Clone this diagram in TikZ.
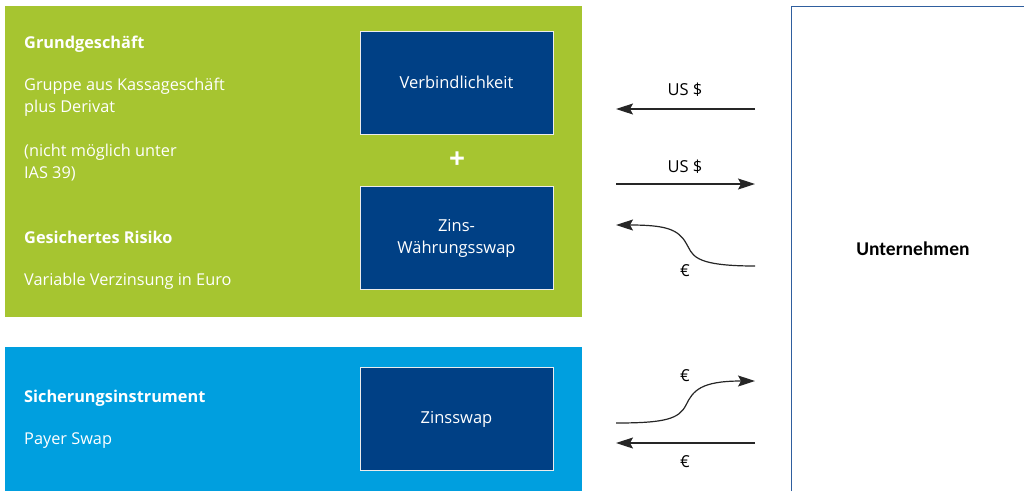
\documentclass[tikz,border=0pt]{standalone}
\usepackage{fontspec}
\setmainfont{Open Sans}
\newfontfamily\labfont{Carlito}
\usetikzlibrary{arrows.meta}
\definecolor{grn}{HTML}{A6C530}
\definecolor{lblue}{HTML}{009FDF}
\definecolor{dblue}{HTML}{004085}
\definecolor{frame}{HTML}{2F5E9E}
\tikzset{
  inner/.style={fill=dblue, draw=white!85!gray, line width=0.8pt, minimum width=193pt, minimum height=103pt, text=white, font=\fontsize{16.5}{22}\selectfont, align=center, inner sep=0pt},
  wtxt/.style={text=white, anchor=west, align=left, inner sep=0pt, font=\fontsize{16.3}{22}\selectfont},
  wbold/.style={wtxt, font=\fontsize{16.3}{22}\selectfont\bfseries},
  flow/.style={line width=1.2pt, draw=black!85, -{Stealth[length=17pt,width=11pt,inset=3pt]}},
  lab/.style={font=\fontsize{16.5}{18}\selectfont, inner sep=0pt, text=black}
}
\begin{document}
\begin{tikzpicture}[x=1pt,y=-1pt]
\useasboundingbox (0,0) rectangle (1024,491);
% panels
\fill[grn] (5,6) rectangle (582,317);
\fill[lblue] (5,347) rectangle (582,491);
\draw[frame, line width=1pt] (791,491) -- (791,6) -- (1030,6);
\node[font=\labfont\fontsize{19.5}{22}\selectfont\bfseries] (unt) at (913,249) {Unternehmen};
% inner boxes
\node[inner] (verb) at (456.5,82.5) {Verbindlichkeit};
\node[inner] (zws) at (456.5,238) {Zins-\\Währungsswap};
\node[inner] (zs) at (456.5,419) {Zinsswap};
\node[text=white, font=\fontsize{28}{28}\selectfont\bfseries, inner sep=0pt] (plus) at (457,160) {+};
% left texts
\node[wbold] (t1) at (24,44) {Grundgeschäft};
\node[wtxt] (t2) at (24,97) {Gruppe aus Kassageschäft\\plus Derivat};
\node[wtxt] (t3) at (24,163) {(nicht möglich unter\\IAS 39)};
\node[wbold] (t4) at (24,237) {Gesichertes Risiko};
\node[wtxt] (t5) at (24,281) {Variable Verzinsung in Euro};
\node[wbold] (t6) at (24,398) {Sicherungsinstrument};
\node[wtxt] (t7) at (24,441) {Payer Swap};
% arrow endpoints
\coordinate (a1s) at (755,109); \coordinate (a1e) at (616,109);
\coordinate (a2s) at (616,184); \coordinate (a2e) at (755,184);
\coordinate (a3s) at (755,266); \coordinate (a3e) at (616,225);
\coordinate (a4s) at (616,423); \coordinate (a4e) at (755,381);
\coordinate (a5s) at (755,443); \coordinate (a5e) at (616,443);
\draw[flow] (a1s) -- (a1e);
\draw[flow] (a2s) -- (a2e);
\draw[flow] (a3s) .. controls (690,266) and (693,254) .. (686,243) .. controls (678,229) and (665,225) .. (a3e);
\draw[flow] (a4s) .. controls (665,423) and (679,419) .. (686,405) .. controls (693,391) and (700,381) .. (a4e);
\draw[flow] (a5s) -- (a5e);
\node[lab] (l1) at (685,90) {US \$};
\node[lab] (l2) at (685,167) {US \$};
\node[lab] (l3) at (685,271) {€};
\node[lab] (l4) at (685,376) {€};
\node[lab] (l5) at (685,462) {€};
\end{tikzpicture}
\end{document}
